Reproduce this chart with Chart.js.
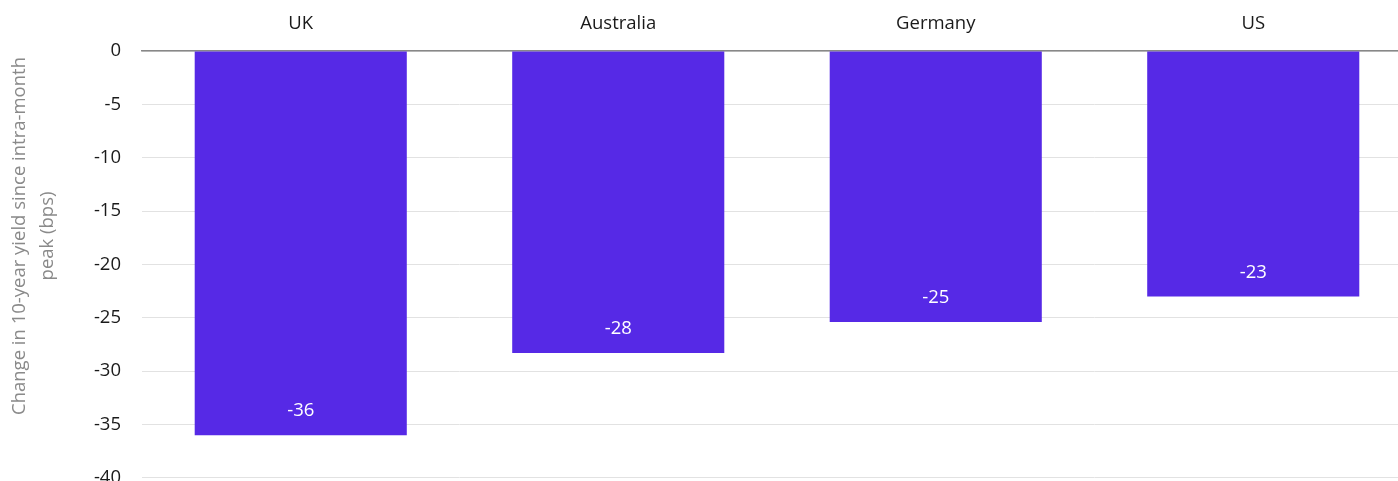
<!DOCTYPE html>
<html>
<head>
<meta charset="utf-8">
<script src="https://cdn.jsdelivr.net/npm/chart.js@4/dist/chart.umd.min.js"></script>
<style>
html,body{margin:0;padding:0;background:#fff;overflow:hidden;}
#wrap{width:1398px;height:481px;overflow:hidden;}
</style>
</head>
<body>
<div id="wrap"><canvas id="c" width="1412" height="510"></canvas></div>
<script>
const categories = ["UK", "Australia", "Germany", "US"];
const values = [-36, -28.3, -25.4, -23];
const labels = ["-36", "-28", "-25", "-23"];
const yTitle = ["Change in 10-year yield since intra-month", "peak (bps)"];

const FONT = "'Open Sans', sans-serif";
const FS = 18.5;

const valueLabels = {
  id: 'valueLabels',
  afterDatasetsDraw(chart) {
    const ctx = chart.ctx;
    const meta = chart.getDatasetMeta(0);
    ctx.save();
    ctx.fillStyle = '#ffffff';
    ctx.font = FS + "px " + FONT;
    ctx.textAlign = 'center';
    ctx.textBaseline = 'middle';
    meta.data.forEach((bar, i) => {
      ctx.fillText(labels[i], bar.x, bar.y - 24);
    });
    ctx.restore();
  }
};

const yTitlePlugin = {
  id: 'yTitlePlugin',
  afterDraw(chart) {
    const ctx = chart.ctx;
    ctx.save();
    ctx.fillStyle = '#8a8a8a';
    ctx.font = FS + "px " + FONT;
    ctx.textAlign = 'center';
    ctx.textBaseline = 'middle';
    const xs = [20, 48];
    yTitle.forEach((t, i) => {
      ctx.save();
      ctx.translate(xs[i], 236);
      ctx.rotate(-Math.PI / 2);
      ctx.fillText(t, 0, 0);
      ctx.restore();
    });
    ctx.restore();
  }
};

new Chart(document.getElementById('c'), {
  type: 'bar',
  data: {
    labels: categories,
    datasets: [{
      data: values,
      backgroundColor: '#5629e6',
      borderColor: '#8a6ef0',
      borderWidth: 0,
      categoryPercentage: 1,
      barPercentage: 0.668
    }]
  },
  options: {
    responsive: false,
    animation: false,
    layout: { padding: 0 },
    plugins: { legend: { display: false }, tooltip: { enabled: false } },
    scales: {
      x: {
        position: 'top',
        afterFit(s) { s.height = 51; },
        grid: { display: false, drawTicks: false },
        border: { display: true, color: '#888888', width: 1.5 },
        ticks: { color: '#1a1a1a', font: { family: FONT, size: FS }, padding: 16 }
      },
      y: {
        min: -40, max: 0,
        afterFit(s) { s.width = 142; },
        ticks: { stepSize: 5, color: '#1a1a1a', font: { family: FONT, size: FS }, padding: 21 },
        grid: { color: '#e2e2e2', drawTicks: false, lineWidth: 1 },
        border: { display: false },
        title: { display: false }
      }
    }
  },
  plugins: [valueLabels, yTitlePlugin]
});
</script>
</body>
</html>
